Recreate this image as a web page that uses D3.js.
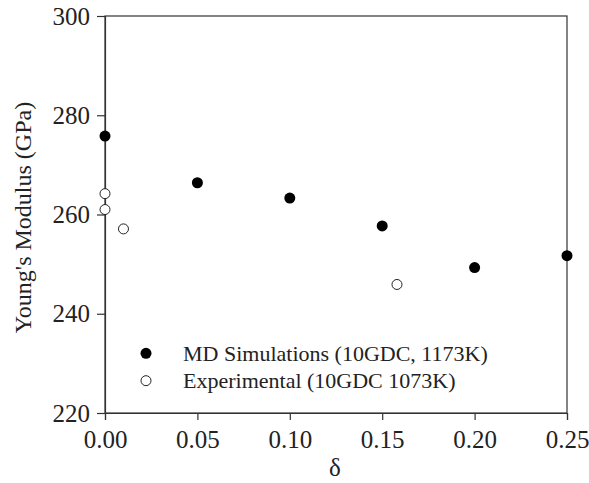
<!DOCTYPE html>
<html>
<head>
<meta charset="utf-8">
<script src="https://cdn.jsdelivr.net/npm/d3@7"></script>
<style>
  body { margin: 0; background: #fff; }
  text { font-family: "Liberation Serif", serif; fill: #222; }
</style>
</head>
<body>
<script>
// dimensions of the SVG container
var w = 589;
var h = 483;
var margin = { top: 16, right: 22, bottom: 70, left: 105 };

// data
var xTicks = [0, 0.05, 0.10, 0.15, 0.20, 0.25];
var yTicks = [220, 240, 260, 280, 300];

var mdDelta = [0, 0.05, 0.10, 0.15, 0.20, 0.25];
var mdModulus = [275.8, 266.4, 263.3, 257.7, 249.3, 251.7];

var expDelta = [0, 0, 0.01, 0.158];
var expModulus = [264.2, 261.0, 257.1, 245.9];

var legendLabels = ["MD Simulations (10GDC, 1173K)", "Experimental (10GDC 1073K)"];

var svg = d3.select("body").append("svg")
    .attr("width", w)
    .attr("height", h);

var x = d3.scaleLinear()
    .domain([0, 0.25])
    .range([margin.left, w - margin.right]);

var y = d3.scaleLinear()
    .domain([220, 300])
    .range([h - margin.bottom, margin.top]);

// frame
svg.append("rect")
    .attr("x", x(0))
    .attr("y", y(300))
    .attr("width", x(0.25) - x(0))
    .attr("height", y(220) - y(300))
    .attr("fill", "none")
    .attr("stroke", "#333")
    .attr("stroke-width", 1.2);

// x axis
var xAxis = svg.append("g")
    .attr("transform", "translate(0," + y(220) + ")")
    .call(d3.axisBottom(x).tickValues(xTicks).tickFormat(d3.format(".2f")).tickSize(7).tickPadding(10));

// y axis
var yAxis = svg.append("g")
    .attr("transform", "translate(" + x(0) + ",0)")
    .call(d3.axisLeft(y).tickValues(yTicks).tickFormat(d3.format("d")).tickSize(8).tickPadding(7));

[xAxis, yAxis].forEach(function (g) {
    g.select(".domain").attr("stroke", "#333").attr("stroke-width", 1.2);
    g.selectAll(".tick line").attr("stroke", "#333").attr("stroke-width", 1.2);
    g.selectAll(".tick text")
        .attr("fill", "#222")
        .style("font-family", "'Liberation Serif', serif")
        .style("font-size", "25px");
});

// axis titles
svg.append("text")
    .attr("x", x(0.125) - 1)
    .attr("y", 476)
    .attr("text-anchor", "middle")
    .style("font-size", "25px")
    .text("δ");

svg.append("text")
    .attr("transform", "translate(31," + 217.5 + ") rotate(-90)")
    .attr("text-anchor", "middle")
    .style("font-size", "24px")
    .text("Young's Modulus (GPa)");

// MD simulation points (filled)
svg.selectAll("circle.md")
    .data(mdDelta.map(function (d, i) { return { d: d, v: mdModulus[i] }; }))
    .enter().append("circle")
    .attr("class", "md")
    .attr("cx", function (d) { return x(d.d); })
    .attr("cy", function (d) { return y(d.v); })
    .attr("r", 5.5)
    .attr("fill", "#000");

// experimental points (open)
svg.selectAll("circle.exp")
    .data(expDelta.map(function (d, i) { return { d: d, v: expModulus[i] }; }))
    .enter().append("circle")
    .attr("class", "exp")
    .attr("cx", function (d) { return x(d.d); })
    .attr("cy", function (d) { return y(d.v); })
    .attr("r", 5)
    .attr("fill", "#fff")
    .attr("stroke", "#222")
    .attr("stroke-width", 1);

// legend
var legend = svg.append("g");
legendLabels.forEach(function (label, i) {
    var ly = 353.3 + i * 27.4;
    legend.append("circle")
        .attr("cx", 146)
        .attr("cy", ly)
        .attr("r", i === 0 ? 5.5 : 5)
        .attr("fill", i === 0 ? "#000" : "#fff")
        .attr("stroke", i === 0 ? "none" : "#222")
        .attr("stroke-width", 1);
    legend.append("text")
        .attr("x", 183)
        .attr("y", ly + 7.4)
        .style("font-size", "22px")
        .text(label);
});
</script>
</body>
</html>
